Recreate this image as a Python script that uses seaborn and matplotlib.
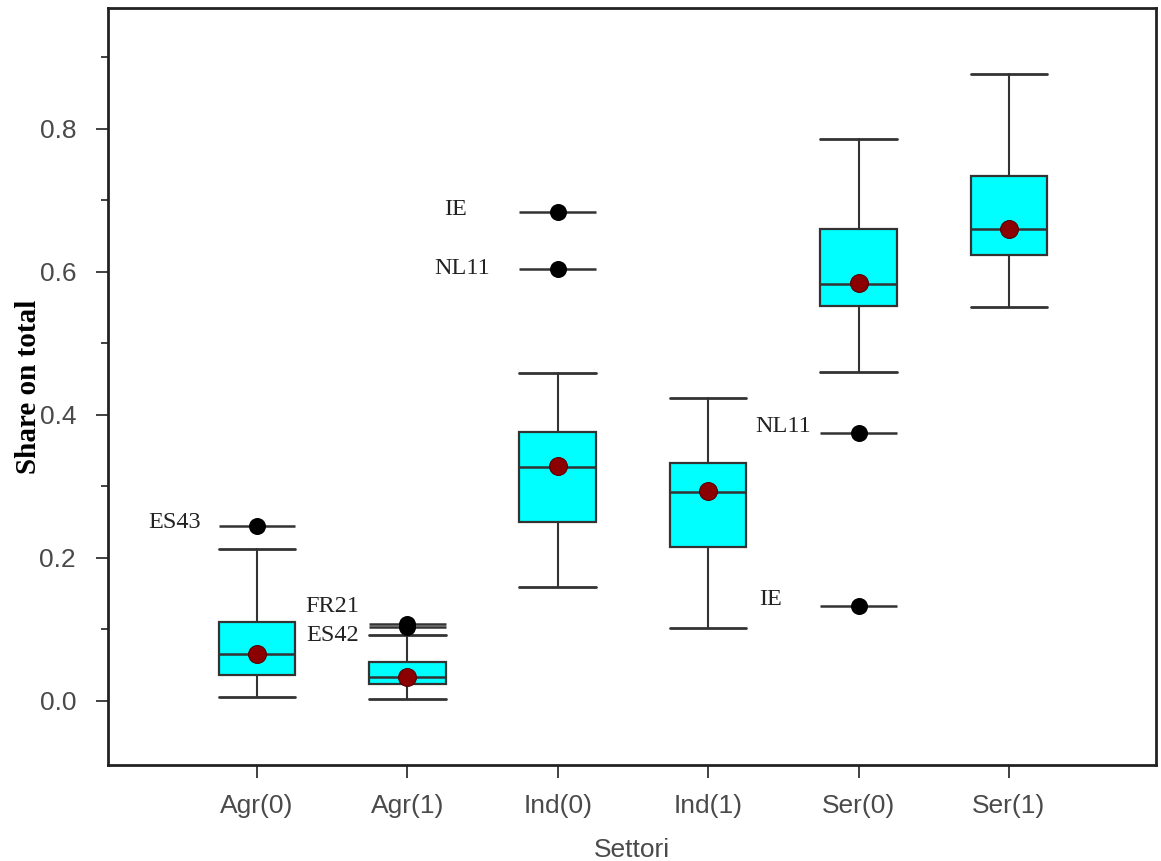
import matplotlib
matplotlib.use("Agg")
import matplotlib.pyplot as plt
import seaborn as sns
import numpy as np
import pandas as pd

# Box summaries
settori = ["Agr(0)", "Agr(1)", "Ind(0)", "Ind(1)", "Ser(0)", "Ser(1)"]
whislo = [0.006, 0.003, 0.159, 0.102, 0.460, 0.551]
q1 = [0.036, 0.024, 0.250, 0.216, 0.552, 0.624]
median = [0.066, 0.034, 0.327, 0.292, 0.583, 0.660]
q3 = [0.110, 0.055, 0.376, 0.333, 0.660, 0.734]
whishi = [0.213, 0.092, 0.459, 0.424, 0.786, 0.877]
mean = [0.066, 0.034, 0.328, 0.293, 0.584, 0.660]

# Outliers (region, sector, value)
out_region = ["ES43", "FR21", "ES42", "IE", "NL11", "NL11", "IE"]
out_settore = ["Agr(0)", "Agr(1)", "Agr(1)", "Ind(0)", "Ind(0)", "Ser(0)", "Ser(0)"]
out_value = [0.245, 0.108, 0.103, 0.684, 0.604, 0.375, 0.133]

# label placement (pixel offsets of the text baseline / right edge)
label_dx = [-56, -48, -48, -91, -68, -48, -77]
label_dy = [-2, 12, -14, -3, -5, 1, 1]

sns.set_theme(style="white")
plt.rcParams["font.family"] = ["Liberation Sans", "DejaVu Sans"]

fig = plt.figure(figsize=(11.61, 8.61), dpi=100)
ax = fig.add_axes([0.093, 0.1115, 0.903, 0.8792])

pos = np.arange(len(settori))
width = 0.51
line_col = "#333333"

stats = [dict(whislo=whislo[i], q1=q1[i], med=median[i], q3=q3[i],
              whishi=whishi[i], fliers=[], label=settori[i])
         for i in range(len(settori))]
ax.bxp(stats, positions=pos, widths=width, patch_artist=True,
       showfliers=False, capwidths=width,
       boxprops=dict(facecolor="#00FFFF", edgecolor=line_col, linewidth=1.6),
       medianprops=dict(color=line_col, linewidth=1.8),
       whiskerprops=dict(color=line_col, linewidth=1.5),
       capprops=dict(color=line_col, linewidth=2.0))

# outliers: a cap-width line plus a black dot
df_out = pd.DataFrame({"region": out_region, "settore": out_settore,
                       "value": out_value})
df_out["x"] = df_out["settore"].map({s: i for i, s in enumerate(settori)})
ax.hlines(df_out["value"], df_out["x"] - width / 2, df_out["x"] + width / 2,
          color=line_col, linewidth=1.8, zorder=3)
sns.scatterplot(data=df_out, x="x", y="value", color="black", s=150,
                edgecolor="black", linewidth=0, zorder=4, ax=ax, legend=False)
for i, row in df_out.iterrows():
    ax.annotate(row["region"], (row["x"], row["value"]),
                xytext=(label_dx[i], label_dy[i]), textcoords="offset pixels",
                ha="right", va="baseline", fontsize=17.5,
                family="Liberation Serif", color="#222222")

# means
df_mean = pd.DataFrame({"x": pos, "mean": mean})
sns.scatterplot(data=df_mean, x="x", y="mean", color="#8B0000", s=165,
                edgecolor="#5a0000", linewidth=0.8, zorder=5, ax=ax, legend=False)

ax.set_xlim(-0.99, 5.98)
ax.set_ylim(-0.0895, 0.969)
ax.set_xticks(pos)
ax.set_xticklabels(settori)
ax.set_yticks([0.0, 0.2, 0.4, 0.6, 0.8])
ax.set_yticklabels(["0.0", "0.2", "0.4", "0.6", "0.8"])
ax.set_yticks([0.1, 0.3, 0.5, 0.7, 0.9], minor=True)
ax.tick_params(axis="both", which="major", labelsize=19, labelcolor="#4a4a4a",
               direction="out", color="#333333", length=9, width=1.3,
               left=True, bottom=True)
ax.tick_params(axis="y", which="minor", direction="out", color="#333333",
               length=5, width=1.3, left=True)
ax.tick_params(axis="x", pad=12)
ax.tick_params(axis="y", pad=14)

ax.set_xlabel("Settori", fontsize=19, color="#4a4a4a", labelpad=14)
ax.set_ylabel("Share on total", fontsize=21, fontweight="bold",
              family="Liberation Serif", color="black", labelpad=-2)

for side in ["left", "bottom", "top", "right"]:
    ax.spines[side].set_color("#222222")
    ax.spines[side].set_linewidth(2.0)
    ax.spines[side].set_visible(True)

fig.savefig("out.png", dpi=100)
